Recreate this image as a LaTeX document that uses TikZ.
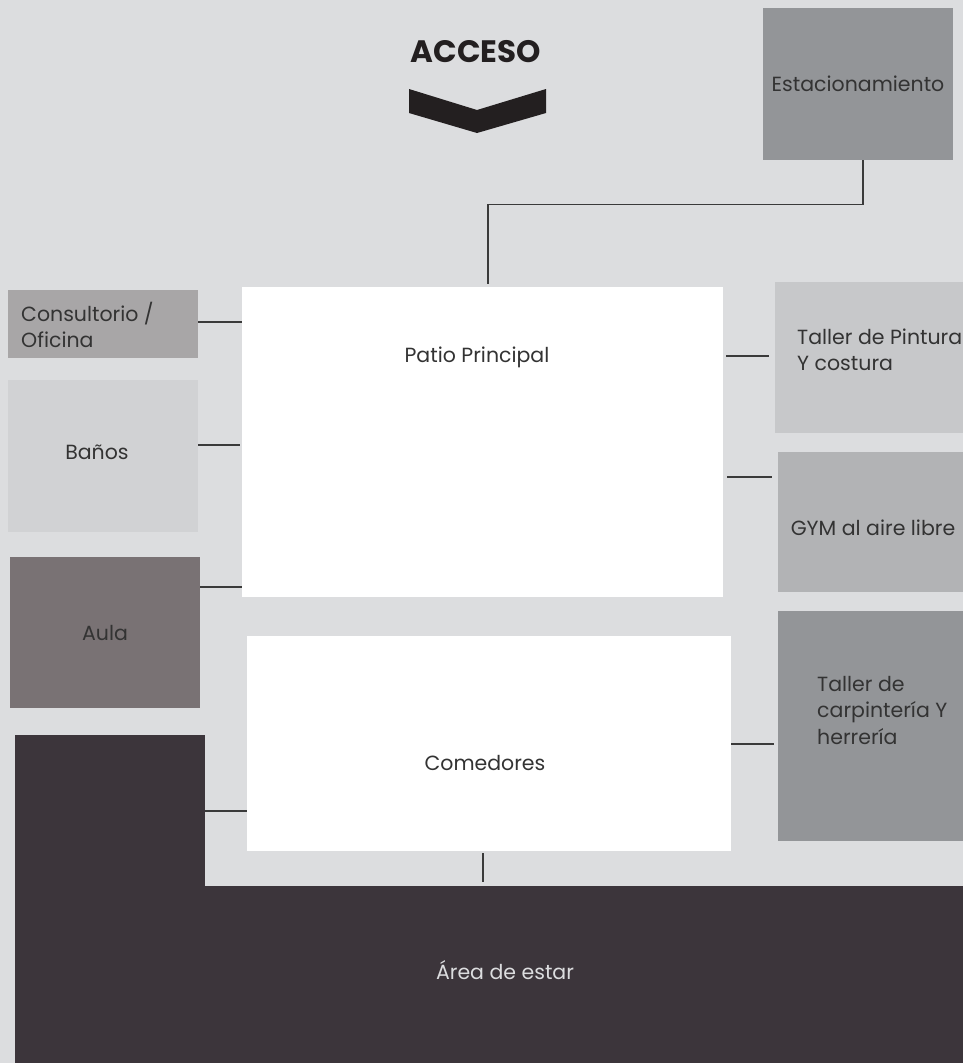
\documentclass[tikz,border=0pt]{standalone}
\usepackage{fontspec}
\setmainfont{Poppins}
\usetikzlibrary{positioning,calc}
\definecolor{fondo}{HTML}{DCDDDF}
\definecolor{gris1}{HTML}{939598}
\definecolor{gris2}{HTML}{A8A6A7}
\definecolor{gris3}{HTML}{D1D2D4}
\definecolor{gris4}{HTML}{797274}
\definecolor{gris5}{HTML}{C7C8CA}
\definecolor{gris6}{HTML}{B2B3B5}
\definecolor{oscuro}{HTML}{3C353B}
\definecolor{texto}{HTML}{333333}
\definecolor{linea}{HTML}{3A3A3A}
\definecolor{flecha}{HTML}{231F20}

\begin{document}
\begin{tikzpicture}[x=1pt, y=-1pt,
    zona/.style={rectangle, inner sep=0pt, draw=none, text=texto,
        font=\fontsize{20.5}{26}\selectfont},
    etiqueta/.style={inner sep=0pt, text=texto, align=left,
        font=\fontsize{20.5}{26.5}\selectfont},
    enlace/.style={draw=linea, line width=1.2pt}]

    % Fondo
    \fill[fondo] (0,0) rectangle (963,1063);
    \useasboundingbox (0,0) rectangle (963,1063);

    % Acceso
    \node[inner sep=0pt, text=flecha, font=\fontsize{31}{31}\selectfont\bfseries] (acceso) at (476,52) {ACCESO};
    \fill[flecha] (409,89) -- (477,110) -- (546,89) -- (546,113) -- (477,133) -- (409,113) -- cycle;

    % Zonas centrales
    \node[zona, fill=white, minimum width=481pt, minimum height=310pt] (patio) at (482.5,442) {};
    \node[etiqueta] (patiotxt) at (477,357) {Patio Principal};
    \node[zona, fill=white, minimum width=484pt, minimum height=215pt] (comedores) at (489,743.5) {};
    \node[etiqueta] (comedorestxt) at (485,763) {Comedores};

    % Zonas izquierda
    \node[zona, fill=gris2, minimum width=190pt, minimum height=68pt] (consult) at (103,324) {};
    \node[etiqueta, anchor=west] (consulttxt) at (21,325) {Consultorio /\\Oficina};
    \node[zona, fill=gris3, minimum width=190pt, minimum height=152pt] (banos) at (103,456) {};
    \node[etiqueta] (banostxt) at (97,452) {Baños};
    \node[zona, fill=gris4, minimum width=190pt, minimum height=151pt] (aula) at (105,632.5) {Aula};

    % Area de estar
    \node[zona, fill=oscuro, minimum width=190pt, minimum height=152pt] (estarcol) at (110,810.5) {};
    \node[zona, fill=oscuro, minimum width=948pt, minimum height=177pt] (estar) at (489,974.5) {};
    \node[etiqueta, text=fondo] (estartxt) at (505,970) {Área de estar};

    % Zonas derecha
    \node[zona, fill=gris1, minimum width=190pt, minimum height=152pt] (estac) at (858,84) {Estacionamiento};
    \node[zona, fill=gris5, minimum width=188pt, minimum height=151pt] (pintura) at (869,357.5) {};
    \node[etiqueta, anchor=west] (pinturatxt) at (797,350) {Taller de Pintura\\Y costura};
    \node[zona, fill=gris6, minimum width=185pt, minimum height=140pt] (gym) at (870.5,522) {};
    \node[etiqueta] (gymtxt) at (873,528) {GYM al aire libre};
    \node[zona, fill=gris1, minimum width=185pt, minimum height=230pt] (carpint) at (870.5,726) {};
    \node[etiqueta, anchor=west] (carpinttxt) at (817,710) {Taller de\\carpintería Y\\herrería};

    % Conexiones
    \draw[enlace] ([xshift=5pt]estac.south) -- ++(0,44) -| ([xshift=5.5pt,yshift=3pt]patio.north);
    \draw[enlace] (consult.east |- 0,322) -- (patio.west |- 0,322);
    \draw[enlace, shorten >=2pt] (banos.east |- 0,445) -- (patio.west |- 0,445);
    \draw[enlace] (aula.east |- 0,587) -- (patio.west |- 0,587);
    \draw[enlace] (estarcol.east |- 0,811) -- (comedores.west |- 0,811);
    \draw[enlace, shorten <=2pt, shorten >=4pt] (comedores.south -| 483,0) -- (estar.north -| 483,0);
    \draw[enlace, shorten <=3pt, shorten >=6pt] (patio.east |- 0,356) -- (pintura.west |- 0,356);
    \draw[enlace, shorten <=4pt, shorten >=6pt] (patio.east |- 0,477) -- (gym.west |- 0,477);
    \draw[enlace, shorten >=4pt] (comedores.east |- 0,744) -- (carpint.west |- 0,744);
\end{tikzpicture}
\end{document}
